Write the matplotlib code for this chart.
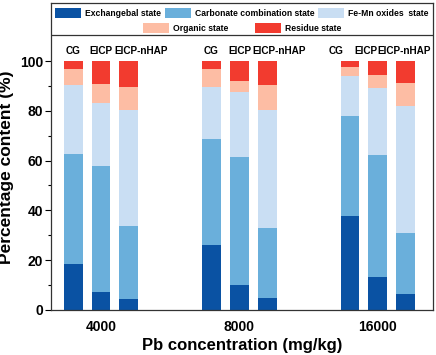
import numpy as np
import matplotlib
matplotlib.use("Agg")
import matplotlib.pyplot as plt
from matplotlib.patches import Patch

concentrations = ["4000", "8000", "16000"]
treatments = ["CG", "EICP", "EICP-nHAP"]
fractions = [
    "Exchangebal state",
    "Carbonate combination state",
    "Fe-Mn oxides  state",
    "Organic state",
    "Residue state",
]
colors = ["#0a52a3", "#6aafdb", "#c9def3", "#fdbda4", "#f23b2f"]

# percentage of each fraction, rows = concentration, cols = treatment
exchangeable = np.array([[18.3, 7.0, 4.4], [26.2, 9.9, 4.8], [37.6, 13.2, 6.2]])
carbonate = np.array([[44.3, 50.7, 29.3], [42.5, 51.4, 28.0], [40.4, 49.1, 24.7]])
fe_mn = np.array([[27.7, 25.3, 46.6], [20.7, 26.1, 47.5], [16.1, 26.8, 51.0]])
organic = np.array([[6.3, 7.7, 9.4], [7.4, 4.7, 10.2], [3.6, 5.4, 9.2]])
residue = np.array([[3.4, 9.3, 10.3], [3.2, 7.9, 9.5], [2.3, 5.5, 8.9]])
layers = [exchangeable, carbonate, fe_mn, organic, residue]

plt.rcParams["font.family"] = ["Liberation Sans", "DejaVu Sans"]
plt.rcParams["font.weight"] = "bold"

fig = plt.figure(figsize=(4.36, 3.55), dpi=100)
ax = fig.add_axes([0.117, 0.127, 0.876, 0.8645])

x = np.arange(len(concentrations))
offset = 0.202
width = 0.137

# small nudges of the treatment labels (they were placed by hand in the original)
label_shift = [[0.0, 0.0, 0.087], [0.0, 0.0, 0.083], [-0.10, -0.087, -0.015]]

for j, tr in enumerate(treatments):
    xpos = x + (j - 1) * offset
    bottom = np.zeros(len(concentrations))
    for layer, c in zip(layers, colors):
        ax.bar(xpos, layer[:, j], width, bottom=bottom, color=c, edgecolor="none")
        bottom += layer[:, j]
    for i, xp in enumerate(xpos):
        ax.text(xp + label_shift[i][j], 104, tr, ha="center", va="center",
                fontsize=7.2, fontweight="bold")

ax.set_xlim(-0.361, 2.397)
ax.set_ylim(0, 123.3)
ax.set_xticks(x)
ax.set_xticklabels(concentrations, fontsize=10, fontweight="bold")
ax.tick_params(axis="x", length=0, pad=7)
ax.set_yticks(np.arange(0, 101, 20))
ax.set_yticks(np.arange(10, 100, 20), minor=True)
ax.tick_params(axis="y", which="major", length=4, width=0.8, labelsize=10, pad=1.5)
ax.tick_params(axis="y", which="minor", length=2.5, width=0.8)
for lab in ax.get_yticklabels():
    lab.set_fontweight("bold")
for s in ax.spines.values():
    s.set_linewidth(0.9)
    s.set_color("#333333")

ax.set_xlabel("Pb concentration (mg/kg)", fontsize=12, fontweight="bold", labelpad=3)
ax.set_ylabel("Percentage content (%)", fontsize=12.5, fontweight="bold")
ax.yaxis.set_label_coords(-0.097, 0.465)

# legend box separator
ax.axhline(110.4, color="#333333", linewidth=0.9)

handles = [Patch(facecolor=c, edgecolor="none") for c in colors]
leg1 = ax.legend(handles[:3], fractions[:3], loc="center", bbox_to_anchor=(0.5, 0.967),
                 ncol=3, frameon=False, fontsize=6.2, handlelength=3.0, handleheight=1.4,
                 handletextpad=0.46, columnspacing=0.46, borderpad=0, borderaxespad=0)
ax.add_artist(leg1)
ax.legend(handles[3:], fractions[3:], loc="center", bbox_to_anchor=(0.5, 0.919),
          ncol=2, frameon=False, fontsize=6.2, handlelength=3.0, handleheight=1.4,
          handletextpad=0.46, columnspacing=3.1, borderpad=0, borderaxespad=0)

fig.savefig("out.png", dpi=100)
